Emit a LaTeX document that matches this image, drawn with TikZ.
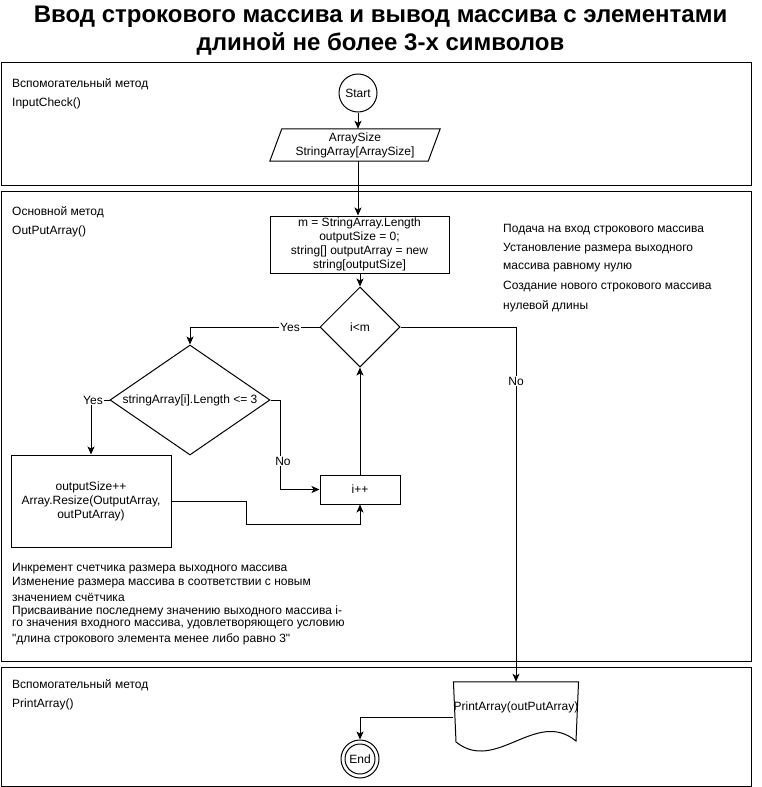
\documentclass[tikz,border=0pt]{standalone}
\usepackage{fontspec}
\setmainfont{Liberation Sans}[Ligatures=TeXOff]
\usetikzlibrary{shapes.geometric,arrows.meta}
\begin{document}
\begin{tikzpicture}[x=1pt,y=-1pt,
  base/.style={font=\fontsize{12}{14}\selectfont, inner sep=0pt},
  box/.style={base, draw, line width=1pt, align=center, rectangle},
  circ/.style={base, draw, line width=1pt, circle},
  dia/.style={base, draw, line width=1pt, diamond},
  plain/.style={line width=1pt},
  conn/.style={line width=1pt, -{Stealth[length=8pt,width=7pt,inset=2pt]}},
  frame/.style={draw, line width=1pt},
  txt/.style={base, anchor=west},
  lbl/.style={base, fill=white, inner sep=1pt}]
\fill[white] (0,0) rectangle (761,787);
\useasboundingbox (0,0) rectangle (761,787);

% title
\node[font=\bfseries\fontsize{24}{28}\selectfont, align=center, inner sep=0pt] (title) at (380.5,31)
  {Ввод строкового массива и вывод массива с элементами\\длиной не более 3-х символов};

% frames
\draw[frame] (1,62) rectangle (751,185);
\draw[frame] (1,191) rectangle (751,661);
\draw[frame] (1,667) rectangle (751,786);

% frame texts
\node[txt] (f1a) at (12,84) {Вспомогательный метод};
\node[txt] (f1b) at (12,103) {InputCheck()};
\node[txt] (f2a) at (12,212) {Основной метод};
\node[txt] (f2b) at (12,231) {OutPutArray()};
\node[txt] (f3a) at (12,685) {Вспомогательный метод};
\node[txt] (f3b) at (12,704) {PrintArray()};

\node[txt] (r1) at (503,230) {Подача на вход строкового массива};
\node[txt] (r2) at (503,249) {Установление размера выходного};
\node[txt] (r3) at (503,268) {массива равному нулю};
\node[txt] (r4) at (503,287) {Создание нового строкового массива};
\node[txt] (r5) at (503,306) {нулевой длины};

\node[txt] (l1) at (12,569) {Инкремент счетчика размера выходного массива};
\node[txt] (l2) at (12,583) {Изменение размера массива в соответствии с новым};
\node[txt] (l3) at (12,597) {значением счётчика};
\node[txt] (l4) at (12,611) {Присваивание последнему значению выходного массива i-};
\node[txt] (l5) at (12,625) {го значения входного массива, удовлетворяющего условию};
\node[txt] (l6) at (12,639) {"длина строкового элемента менее либо равно 3"};

% shapes
\node[circ, minimum size=38] (start) at (358,93) {Start};
\node[base, minimum width=158, minimum height=32, align=center] (para) at (355,145)
  {ArraySize\\StringArray[ArraySize]};
\draw[plain] ([xshift=6pt]para.north west) -- ([xshift=6pt]para.north east)
  -- ([xshift=-6pt]para.south east) -- ([xshift=-6pt]para.south west) -- cycle;

\node[box, minimum width=179, minimum height=57] (init) at (359.5,244.5)
  {m = StringArray.Length\\outputSize = 0;\\string[] outputArray = new\\string[outputSize]};
\node[dia, minimum width=80, minimum height=80] (cond) at (360,327) {i<m};
\node[dia, aspect=1.45, minimum width=160, minimum height=110] (len) at (190,400)
  {stringArray[i].Length <= 3};
\node[box, minimum width=160, minimum height=92] (resize) at (91,501)
  {outputSize++\\Array.Resize(OutputArray,\\outPutArray)};
\node[box, minimum width=80, minimum height=29] (inc) at (360,489.5) {i++};

\node[base, minimum width=120, minimum height=70, text height=9pt, text depth=22pt] (doc) at (516,717)
  {PrintArray(outPutArray)};
\draw[plain] (doc.north west) -- (doc.north east) -- (576,741)
  .. controls (536,708) and (496,774) .. (456,742) -- cycle;

\node[circ, minimum size=38] (end) at (360,759) {End};
\draw[plain] (end.center) circle[radius=15pt];

% connectors
\draw[conn] (start.south) -- (start.south |- para.north);
\draw[conn] (para.south -| start.south) -- (init.north -| start.south);
\draw[conn] (init.south -| cond.north) -- (cond.north);
\draw[conn] (cond.west) -- (cond.west -| len.north) -- (len.north);
\draw[conn] (cond.east) -- (cond.east -| doc.north) -- (doc.north);
\draw[conn] (len.west) -- (len.west -| resize.north) -- (resize.north);
\draw[conn] (len.east) -- ++(10,0) |- (inc.west);
\coordinate (jog) at (246,524);
\draw[conn] (resize.east) -| (jog) -- (jog -| inc.south) -- (inc.south);
\draw[conn] (inc.north) -- (cond.south);
\draw[conn] (doc.west) -| (end.north);

% labels
\node[lbl] (yes1) at (290,327) {Yes};
\node[lbl] (no1) at (516,381) {No};
\node[lbl] (yes2) at (93,400) {Yes};
\node[lbl] (no2) at (283,461) {No};
\end{tikzpicture}
\end{document}
